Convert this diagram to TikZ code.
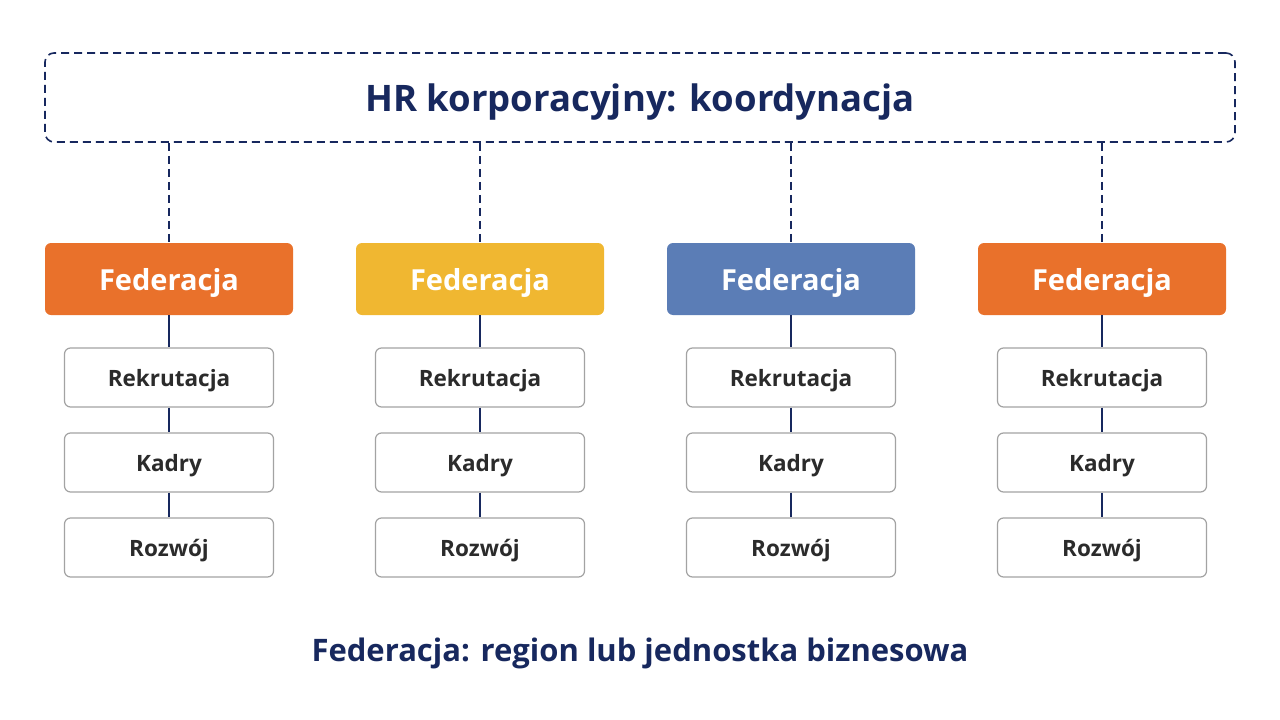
\documentclass[tikz,border=0pt]{standalone}
\usepackage{fontspec}
\setmainfont{Open Sans}
\usepackage{xcolor}
\usepackage{tikz}

\definecolor{navy}{HTML}{17285E}
\definecolor{fedorange}{HTML}{E9712B}
\definecolor{fedyellow}{HTML}{F0B731}
\definecolor{fedblue}{HTML}{5B7DB6}
\definecolor{boxgray}{HTML}{A3A3A3}
\definecolor{textgray}{HTML}{2B2B2B}

\begin{document}
\begin{tikzpicture}[x=1pt, y=-1pt,
    every node/.style={rectangle, inner sep=0pt, text depth=0pt, font=\bfseries},
    fed/.style={rounded corners=6pt, minimum width=248pt, minimum height=72pt, text=white, font=\fontsize{29}{34}\selectfont\bfseries},
    unit/.style={draw=boxgray, line width=1.2pt, fill=white, rounded corners=6pt, minimum width=209pt, minimum height=59pt, text=textgray, font=\fontsize{22.5}{27}\selectfont\bfseries},
    link/.style={draw=navy, line width=1.5pt},
    dashlink/.style={draw=navy, line width=1.6pt, dash pattern=on 8pt off 5pt}]
     \useasboundingbox (0,0) rectangle (1280,720);

     \node[dashlink, rounded corners=9pt, minimum width=1190pt, minimum height=89pt, text=navy, font=\fontsize{36.5}{44}\selectfont\bfseries] (T) at (640,97.5) {HR korporacyjny: koordynacja};

     \node[fed, fill=fedorange] (F1) at (169,279) {Federacja};
     \node[fed, fill=fedyellow] (F2) at (480,279) {Federacja};
     \node[fed, fill=fedblue] (F3) at (791,279) {Federacja};
     \node[fed, fill=fedorange] (F4) at (1102,279) {Federacja};

     \node[unit] (R1) at (169,377.5) {Rekrutacja};
     \node[unit] (K1) at (169,462.5) {Kadry};
     \node[unit] (W1) at (169,547.5) {Rozwój};
     \node[unit] (R2) at (480,377.5) {Rekrutacja};
     \node[unit] (K2) at (480,462.5) {Kadry};
     \node[unit] (W2) at (480,547.5) {Rozwój};
     \node[unit] (R3) at (791,377.5) {Rekrutacja};
     \node[unit] (K3) at (791,462.5) {Kadry};
     \node[unit] (W3) at (791,547.5) {Rozwój};
     \node[unit] (R4) at (1102,377.5) {Rekrutacja};
     \node[unit] (K4) at (1102,462.5) {Kadry};
     \node[unit] (W4) at (1102,547.5) {Rozwój};

     \node[text=navy, font=\fontsize{31}{36}\selectfont\bfseries] (N) at (640,650) {Federacja: region lub jednostka biznesowa};

     \draw[dashlink] (F1.north |- T.south) -- (F1.north);
     \draw[dashlink] (F2.north |- T.south) -- (F2.north);
     \draw[dashlink] (F3.north |- T.south) -- (F3.north);
     \draw[dashlink] (F4.north |- T.south) -- (F4.north);

     \draw[link] (F1) -- (R1);
     \draw[link] (R1) -- (K1);
     \draw[link] (K1) -- (W1);
     \draw[link] (F2) -- (R2);
     \draw[link] (R2) -- (K2);
     \draw[link] (K2) -- (W2);
     \draw[link] (F3) -- (R3);
     \draw[link] (R3) -- (K3);
     \draw[link] (K3) -- (W3);
     \draw[link] (F4) -- (R4);
     \draw[link] (R4) -- (K4);
     \draw[link] (K4) -- (W4);
 \end{tikzpicture}
\end{document}
